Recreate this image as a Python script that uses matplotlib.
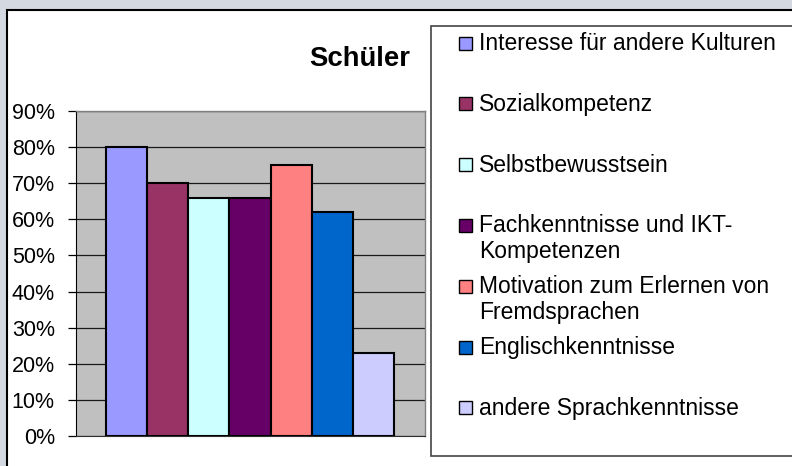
import matplotlib
matplotlib.use("Agg")
import matplotlib.pyplot as plt
from matplotlib.patches import Rectangle
from matplotlib.ticker import PercentFormatter

plt.rcParams['font.family'] = ['Liberation Sans', 'DejaVu Sans']

title = 'Schüler'
categories = [
    'Interesse für andere Kulturen',
    'Sozialkompetenz',
    'Selbstbewusstsein',
    'Fachkenntnisse und IKT-\nKompetenzen',
    'Motivation zum Erlernen von\nFremdsprachen',
    'Englischkenntnisse',
    'andere Sprachkenntnisse',
]
values = [0.80, 0.70, 0.66, 0.66, 0.75, 0.62, 0.23]
colors = ['#9999FF', '#993366', '#CCFFFF', '#660066', '#FF8080', '#0066CC', '#CCCCFF']
yticks = [0.0, 0.1, 0.2, 0.3, 0.4, 0.5, 0.6, 0.7, 0.8, 0.9]

W, H = 792, 466


def fx(px):
    return px / W


def fy(py):
    return 1 - py / H


fig = plt.figure(figsize=(W / 100, H / 100), dpi=100, facecolor='#D4D8E1')

# white chart panel with black frame, running off the right/bottom edge
fig.patches.append(Rectangle((fx(7), fy(480)), fx(810) - fx(7), fy(10) - fy(480),
                             transform=fig.transFigure, facecolor='white',
                             edgecolor='black', linewidth=1.5, zorder=-10))

ax = fig.add_axes([fx(75.7), fy(436), fx(425) - fx(75.7), fy(111) - fy(436)])
ax.set_zorder(1)
ax.set_facecolor('#C0C0C0')
ax.bar(range(len(values)), values, width=1.0, color=colors,
       edgecolor='black', linewidth=1.5, zorder=3)
ax.set_xlim(-1.23, 7.25)
ax.set_ylim(0, 0.9)
ax.set_yticks(yticks)
ax.yaxis.set_major_formatter(PercentFormatter(1.0, decimals=0))
ax.set_xticks([])
ax.grid(axis='y', color='#1a1a1a', linewidth=0.9, zorder=1)
ax.set_axisbelow(True)
ax.tick_params(axis='y', direction='out', length=6, width=0.9, pad=9,
               labelsize=15.5, colors='black')
for side in ['top', 'right']:
    ax.spines[side].set_color('#808080')
    ax.spines[side].set_linewidth(1.0)
ax.spines['left'].set_color('black')
ax.spines['bottom'].set_color('#303030')

fig.text(fx(359.5), fy(66), title, fontsize=19.8, fontweight='bold',
         ha='center', va='baseline')

# legend box, drawn like the spreadsheet one
fig.patches.append(Rectangle((fx(431), fy(456)), fx(810) - fx(431), fy(26) - fy(456),
                             transform=fig.transFigure, facecolor='white',
                             edgecolor='#444444', linewidth=1.2, zorder=-5))
base0, step, line_step = 50, 60.8, 25.5
for i, (label, c) in enumerate(zip(categories, colors)):
    base = base0 + step * i
    fig.patches.append(Rectangle((fx(458.5), fy(base - 0.5)), fx(13), fy(0) - fy(13),
                                 transform=fig.transFigure, facecolor=c,
                                 edgecolor='black', linewidth=1.0, zorder=2))
    for k, line in enumerate(label.split('\n')):
        fig.text(fx(479), fy(base + k * line_step), line, fontsize=16.5,
                 ha='left', va='baseline', zorder=3)

fig.savefig('out.png', dpi=100, facecolor=fig.get_facecolor())
